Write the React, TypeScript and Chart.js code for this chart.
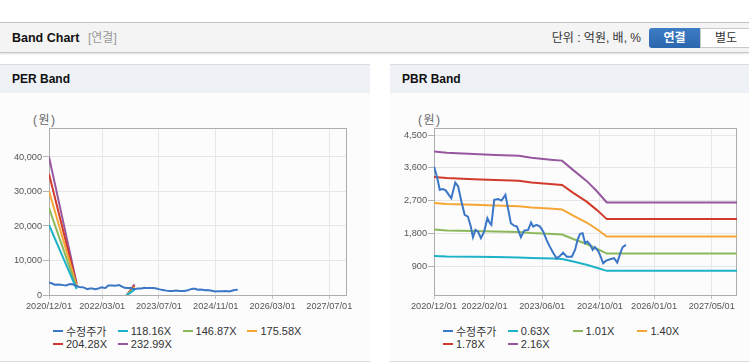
import React, { useEffect, useRef } from "react";
import { Chart, registerables } from "chart.js";

Chart.register(...registerables);

const TICK_FONT = '"Liberation Sans", Arial, sans-serif';
const UI_FONT = '"Liberation Sans", "Noto Sans CJK KR", sans-serif';

// x values = months since 2020/12/01
const priceMonths = [
  0, 0.9, 1.6, 2.5, 3.3, 4.1, 4.8, 5.9, 6.7, 7.6, 8.5, 9.4, 10.2, 10.8, 11.5, 12.2, 13, 13.9,
  14.8, 15.5, 15.9, 16.7, 17.8, 18.7, 19.8, 20.6, 21.3, 22.2, 23, 24.1, 25, 26.1, 26.9, 27.5,
  28.4, 29.4, 30.3, 31.2, 32.1, 33.1, 34, 34.9, 35.8, 36.8, 38.2, 39.1, 39.8, 40.5, 41.2, 41.9,
  42.5, 43.3, 44, 44.6, 45.6, 46.2, 46.9, 47.7, 48.8, 49.9, 50.8, 51.8, 52.3, 53.2,
];
const priceValues = [
  3640, 3322, 3001, 3020, 2980, 2864, 2774, 3200, 3092, 2681, 2317, 2270, 1996, 1706, 1906, 1859,
  1678, 1859, 2226, 2089, 2043, 2728, 2747, 2708, 2864, 2453, 2089, 2023, 1996, 1706, 1886, 1906,
  2106, 1996, 2043, 1996, 1859, 1632, 1448, 1267, 1130, 1193, 1284, 1174, 1174, 1358, 1632, 1796,
  1815, 1541, 1585, 1495, 1358, 1432, 1311, 1174, 993, 1064, 1103, 1130, 1010, 1311, 1432, 1495,
];

const perBandMonths = [0, 7.8, 8.6, 21, 24.1];
const perBand118 = [20290, 1713, null, -744, 1572];
const perBand147 = [25220, 2130, null, -925, 1953];
const perBand176 = [30150, 2546, null, -1106, 2335];
const perBand204 = [35080, 2962, null, -1287, 2717];
const perBand233 = [40010, 3378, null, -1468, 3099];
const perBandLabels = ["118.16X", "146.87X", "175.58X", "204.28X", "232.99X"];
const perXTickMonths = [0, 15, 31, 47, 63, 79];
const perXTickLabels = ["2020/12/01", "2022/03/01", "2023/07/01", "2024/11/01", "2026/03/01", "2027/07/01"];
const perYTicks = [0, 10000, 20000, 30000, 40000];

const pbrBandMonths = [0, 3.5, 11, 17, 23.5, 27, 33, 35.5, 38.6, 42.3, 45.1, 47.9, 84];
const pbrBand063 = [1195, 1175, 1168, 1162, 1150, 1140, 1120, 1110, 1040, 950, 870, 785, 785];
const pbrBand101 = [1915, 1890, 1872, 1860, 1846, 1820, 1792, 1780, 1656, 1520, 1392, 1258, 1258];
const pbrBand140 = [2639, 2615, 2590, 2573, 2555, 2520, 2481, 2464, 2296, 2107, 1929, 1725, 1725];
const pbrBand178 = [3352, 3325, 3293, 3272, 3249, 3204, 3154, 3133, 2919, 2679, 2453, 2200, 2200];
const pbrBand216 = [4050, 4015, 3980, 3955, 3930, 3880, 3820, 3800, 3540, 3245, 2970, 2655, 2655];
const pbrBandLabels = ["0.63X", "1.01X", "1.40X", "1.78X", "2.16X"];
const pbrXTickMonths = [0, 14, 30, 46, 61, 77];
const pbrXTickLabels = ["2020/12/01", "2022/02/01", "2023/06/01", "2024/10/01", "2026/01/01", "2027/05/01"];
const pbrYTicks = [900, 1800, 2700, 3600, 4500];

const PRICE_LABEL = "수정주가";
const COLORS = ["#3b77c6", "#1db2c7", "#8cb75a", "#f5a635", "#d13a2b", "#97579f"];

type ChartProps = {
  left: number;
  top: number;
  width: number;
  height: number;
  yAxisWidth: number;
  padRight: number;
  padTop: number;
  bandMonths: number[];
  bands: (number | null)[][];
  bandLabels: string[];
  xTicks: number[];
  xTickLabels: string[];
  yTicks: number[];
  yMin: number;
  yMax: number;
};

function BandChart(p: ChartProps) {
  const ref = useRef<HTMLCanvasElement | null>(null);
  useEffect(() => {
    const canvas = ref.current;
    if (!canvas) return;
    const datasets: any[] = [
      {
        label: PRICE_LABEL,
        data: priceMonths.map((x, i) => ({ x, y: priceValues[i] })),
        borderColor: COLORS[0],
        backgroundColor: COLORS[0],
        borderWidth: 2,
        pointRadius: 0,
        tension: 0,
        clip: 0,
      },
      ...p.bands.map((b, k) => ({
        label: p.bandLabels[k],
        data: p.bandMonths.map((x, i) => ({ x, y: b[i] })),
        borderColor: COLORS[k + 1],
        backgroundColor: COLORS[k + 1],
        borderWidth: 2,
        pointRadius: 0,
        tension: 0,
        spanGaps: false,
        clip: 0,
      })),
    ];
    const boxPlugin = {
      id: "plotBox",
      beforeDatasetsDraw(chart: any) {
        const { ctx, chartArea } = chart;
        const { left, top, right, bottom } = chartArea;
        ctx.save();
        ctx.strokeStyle = "#adadad";
        ctx.lineWidth = 1;
        ctx.strokeRect(Math.round(left) + 0.5, Math.round(top) + 0.5, Math.round(right - left) - 1, Math.round(bottom - top));
        ctx.restore();
      },
    };
    const tickFont = { family: TICK_FONT, size: 9.2 };
    const chart = new Chart(canvas, {
      type: "line",
      data: { datasets },
      plugins: [boxPlugin],
      options: {
        animation: false,
        responsive: false,
        maintainAspectRatio: false,
        events: [],
        layout: { padding: { top: p.padTop, right: p.padRight, left: 0, bottom: 0 } },
        plugins: { legend: { display: false }, tooltip: { enabled: false } },
        scales: {
          x: {
            type: "linear",
            min: 0,
            max: 84,
            afterBuildTicks: (s: any) => {
              s.ticks = p.xTicks.map((v) => ({ value: v }));
            },
            afterFit: (s: any) => {
              s.height = 20;
            },
            ticks: {
              autoSkip: false,
              maxRotation: 0,
              minRotation: 0,
              padding: 2,
              color: "#555",
              font: tickFont,
              callback: (v: any) => {
                const i = p.xTicks.indexOf(Number(v));
                return i >= 0 ? p.xTickLabels[i] : "";
              },
            },
            grid: { color: "#e7e7e7", tickColor: "#c4c4c4", tickLength: 4 },
            border: { display: false },
          },
          y: {
            type: "linear",
            min: p.yMin,
            max: p.yMax,
            afterBuildTicks: (s: any) => {
              s.ticks = p.yTicks.map((v) => ({ value: v }));
            },
            afterFit: (s: any) => {
              s.width = p.yAxisWidth;
            },
            ticks: {
              padding: 1,
              color: "#555",
              font: tickFont,
              callback: (v: any) => Number(v).toLocaleString("en-US"),
            },
            grid: { color: "#e7e7e7", tickColor: "#b4b4b4", tickLength: 6 },
            border: { display: false },
          },
        },
      } as any,
    });
    return () => chart.destroy();
  }, []);
  return (
    <canvas
      ref={ref}
      width={p.width}
      height={p.height}
      style={{ position: "absolute", left: p.left, top: p.top, width: p.width, height: p.height }}
    />
  );
}

function Legend({ left, labels }: { left: number; labels: string[] }) {
  const all = [PRICE_LABEL, ...labels];
  return (
    <>
      {all.map((lab, i) => {
        const row = Math.floor(i / 4);
        const col = i % 4;
        return (
          <div
            key={lab}
            style={{
              position: "absolute",
              left: left + col * 64.8,
              top: 324.5 + row * 12.6,
              height: 13,
              display: "flex",
              alignItems: "center",
              whiteSpace: "nowrap",
              fontFamily: UI_FONT,
              fontSize: 11,
              color: "#333",
            }}
          >
            <span style={{ display: "inline-block", width: 10, height: 2, background: COLORS[i], marginRight: 3 }} />
            <span>{lab}</span>
          </div>
        );
      })}
    </>
  );
}

function Panel({ left, width, title }: { left: number; width: number; title: string }) {
  return (
    <div
      style={{
        position: "absolute",
        left,
        top: 64,
        width,
        height: 298,
        background: "#fcfcfd",
        borderTop: "1px solid #dcdcdc",
        borderBottom: "1px solid #dcdcdc",
        boxSizing: "border-box",
      }}
    >
      <div
        style={{
          height: 28,
          background: "#eef2f7",
          display: "flex",
          alignItems: "center",
          paddingLeft: 12,
          fontFamily: UI_FONT,
          fontWeight: "bold",
          fontSize: 12,
          color: "#111",
        }}
      >
        {title}
      </div>
    </div>
  );
}

export default function App() {
  const unitStyle: React.CSSProperties = {
    position: "absolute",
    fontFamily: UI_FONT,
    fontSize: 12,
    letterSpacing: 1.5,
    color: "#666",
  };
  return (
    <div style={{ position: "absolute", left: 0, top: 0, width: 749, height: 364, background: "#fff", overflow: "hidden" }}>
      {/* header */}
      <div
        style={{
          position: "absolute",
          left: 0,
          top: 22,
          width: 749,
          height: 31,
          background: "#f4f4f4",
          borderTop: "1px solid #c2c2c2",
          borderBottom: "1px solid #c6c6c6",
          boxShadow: "0 1px 2px rgba(0,0,0,0.12)",
          boxSizing: "border-box",
        }}
      />
      <div style={{ position: "absolute", left: 12, top: 30, height: 16, lineHeight: "16px", fontFamily: UI_FONT, fontWeight: "bold", fontSize: 12.5, color: "#111" }}>
        Band Chart
      </div>
      <div style={{ position: "absolute", left: 88, top: 30, height: 16, lineHeight: "16px", fontFamily: UI_FONT, fontSize: 12, color: "#999" }}>
        [연결]
      </div>
      <div style={{ position: "absolute", right: 108, top: 30, height: 16, lineHeight: "16px", fontFamily: UI_FONT, fontSize: 12, color: "#333", whiteSpace: "nowrap" }}>
        단위 : 억원, 배, %
      </div>
      <div
        style={{
          position: "absolute",
          left: 649,
          top: 28,
          width: 51,
          height: 20,
          background: "linear-gradient(#3d7dc6, #2c66ad)",
          borderRadius: "3px 0 0 3px",
          color: "#fff",
          fontFamily: UI_FONT,
          fontWeight: "bold",
          fontSize: 12,
          lineHeight: "20px",
          textAlign: "center",
        }}
      >
        연결
      </div>
      <div
        style={{
          position: "absolute",
          left: 700,
          top: 28,
          width: 52,
          height: 20,
          background: "#fff",
          border: "1px solid #c9c9c9",
          boxSizing: "border-box",
          color: "#333",
          fontFamily: UI_FONT,
          fontSize: 12,
          lineHeight: "18px",
          textAlign: "center",
        }}
      >
        별도
      </div>

      <Panel left={0} width={370} title="PER Band" />
      <Panel left={390} width={359} title="PBR Band" />

      <div style={{ ...unitStyle, left: 33, top: 110 }}>(원)</div>
      <div style={{ ...unitStyle, left: 418, top: 110 }}>(원)</div>

      <BandChart
        left={0}
        top={100}
        width={370}
        height={215}
        yAxisWidth={49}
        padRight={23}
        padTop={28}
        bandMonths={perBandMonths}
        bands={[perBand118, perBand147, perBand176, perBand204, perBand233]}
        bandLabels={perBandLabels}
        xTicks={perXTickMonths}
        xTickLabels={perXTickLabels}
        yTicks={perYTicks}
        yMin={0}
        yMax={48400}
      />
      <BandChart
        left={390}
        top={100}
        width={359}
        height={215}
        yAxisWidth={44}
        padRight={12}
        padTop={28}
        bandMonths={pbrBandMonths}
        bands={[pbrBand063, pbrBand101, pbrBand140, pbrBand178, pbrBand216]}
        bandLabels={pbrBandLabels}
        xTicks={pbrXTickMonths}
        xTickLabels={pbrXTickLabels}
        yTicks={pbrYTicks}
        yMin={125}
        yMax={4692}
      />

      <Legend left={53} labels={perBandLabels} />
      <Legend left={443} labels={pbrBandLabels} />
    </div>
  );
}
